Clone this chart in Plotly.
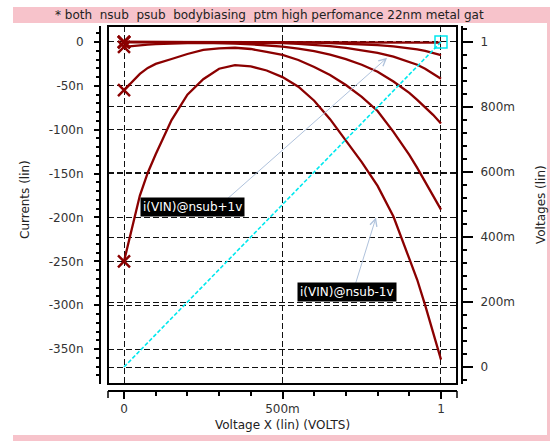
import plotly.graph_objects as go

# ---------------- data ----------------
sweep_v = [0, 0.025, 0.05, 0.075, 0.1, 0.15, 0.2, 0.25, 0.3, 0.35, 0.4, 0.45, 0.5,
           0.55, 0.6, 0.65, 0.7, 0.75, 0.8, 0.85, 0.9, 0.925, 0.95, 0.975, 1.0]

# currents in nA
i_curve1 = [0, 0, 0, 0, 0, 0, 0, 0, 0, 0, 0, 0, 0, 0, 0, -0.1, -0.1, -0.2, -0.2, -0.3,
            -0.4, -0.5, -0.6, -0.7, -0.8]
i_curve2 = [0, 0, 0, 0, 0, 0, 0, 0, 0, 0, -0.1, -0.2, -0.3, -0.5, -0.8, -1.2, -1.8, -2.6,
            -3.6, -5.0, -7.0, -8.5, -10.2, -12.4, -15.0]
i_curve3 = [-0.4, -0.3, -0.3, -0.2, -0.2, -0.2, -0.2, -0.2, -0.3, -0.4, -0.6, -0.9, -1.4,
            -2.2, -3.3, -4.8, -6.8, -9.3, -12.5, -16.8, -22.5, -26.0, -30.5, -36.0, -42.0]
i_curve4 = [-5.7, -4.6, -3.7, -3.0, -2.4, -1.6, -1.2, -1.1, -1.3, -1.8, -2.6, -3.8, -5.3,
            -7.5, -10.5, -14.5, -19.5, -26.0, -34.0, -45.0, -58.0, -66.0, -74.0, -83.0, -93.0]
i_curve5 = [-55, -45.5, -36.4, -29.6, -25, -19.4, -13.7, -9.1, -7.2, -6.6, -8, -11.4, -14.8,
            -20.5, -28.5, -37.6, -49, -62.6, -78.6, -102.5, -128.7, -143.5, -159.5, -175, -191]
i_curve6 = [-250, -212, -175, -149, -128, -89, -60, -42.5, -30.5, -26.4, -27.9, -32.5, -40,
            -51, -67, -88, -112, -137, -164, -199, -247, -271, -300, -330, -362]
current_curves = [i_curve1, i_curve2, i_curve3, i_curve4, i_curve5, i_curve6]

# voltage trace (right axis)
volt_x = [0, 1]
volt_y = [0, 1]

x_tick_vals = [0, 0.5, 1]
x_tick_text = ["0", "500m", "1"]
yl_tick_vals = [0, -50, -100, -150, -200, -250, -300, -350]
yl_tick_text = ["0", "-50n", "-100n", "-150n", "-200n", "-250n", "-300n", "-350n"]
yr_tick_vals = [0, 0.2, 0.4, 0.6, 0.8, 1.0]
yr_tick_text = ["0", "200m", "400m", "600m", "800m", "1"]

title_text = "* both\u00a0 nsub\u00a0 psub\u00a0 bodybiasing\u00a0 ptm high perfomance 22nm metal gat"
label_plus = "i(VIN)@nsub+1v"
label_minus = "i(VIN)@nsub-1v"

# ---------------- geometry helpers (pixels -> paper) ----------------
W, H = 550, 441
L, R, T, B = 100, 462, 26, 391


def px(x):
    return (x - L) / (R - L)


def py(y):
    return (B - y) / (B - T)


RED = "#8B0000"
CYAN = "#00E8EE"
FONT = "DejaVu Sans"
TXT = "#333333"
GRID = dict(showgrid=True, gridcolor="#111111", griddash="6px,3px", gridwidth=1)

fig = go.Figure()

for c in current_curves:
    fig.add_trace(go.Scatter(x=sweep_v, y=c, mode="lines",
                             line=dict(color=RED, width=2.3), yaxis="y", hoverinfo="skip"))

fig.add_trace(go.Scatter(x=[sweep_v[0]] * len(current_curves),
                         y=[c[0] for c in current_curves], mode="markers",
                         marker=dict(symbol="x-thin", size=12,
                                     line=dict(color=RED, width=2.5)), yaxis="y"))

fig.add_trace(go.Scatter(x=volt_x, y=volt_y, mode="lines",
                         line=dict(color=CYAN, width=1.6, dash="4px,2px"), yaxis="y2"))
fig.add_trace(go.Scatter(x=[volt_x[-1]], y=[volt_y[-1]], mode="markers",
                         marker=dict(symbol="square-open", size=12,
                                     line=dict(color=CYAN, width=1.5), color=CYAN),
                         yaxis="y2"))

tickfont = dict(family=FONT, size=12, color=TXT)

fig.update_layout(
    width=W, height=H,
    margin=dict(l=L, r=W - R, t=T, b=H - B, autoexpand=False),
    paper_bgcolor="white", plot_bgcolor="white",
    showlegend=False,
    xaxis=dict(domain=[px(108), px(457)], range=[-0.0505, 1.0505],
               anchor="free", position=0,
               showline=True, linecolor="black", linewidth=2,
               ticks="outside", ticklen=7, tickwidth=1.5, tickcolor="black",
               tickmode="array", tickvals=x_tick_vals, ticktext=x_tick_text,
               zeroline=False, tickfont=tickfont, ticklabelstandoff=0,
               minor=dict(tickmode="linear", tick0=0, dtick=0.1, ticks="outside",
                          ticklen=4, tickcolor="black", tickwidth=1.5, showgrid=False),
               **GRID),
    yaxis=dict(domain=[py(384), py(26)], range=[-389.8, 18.2],
               anchor="free", position=0,
               showline=True, linecolor="black", linewidth=2,
               ticks="outside", ticklen=5, tickwidth=1.5, tickcolor="black",
               tickmode="array", tickvals=yl_tick_vals, ticktext=yl_tick_text,
               zeroline=False, tickfont=tickfont, ticklabelstandoff=8,
               minor=dict(tickmode="linear", tick0=0, dtick=10, ticks="outside",
                          ticklen=3, tickcolor="black", tickwidth=1.5, showgrid=False),
               **GRID),
    yaxis2=dict(overlaying="y", side="right", range=[-0.0523, 1.0492],
                anchor="free", position=1,
                showline=True, linecolor="black", linewidth=2,
                ticks="outside", ticklen=10, tickwidth=1.5, tickcolor="black",
                tickmode="array", tickvals=yr_tick_vals, ticktext=yr_tick_text,
                zeroline=False, tickfont=tickfont, ticklabelstandoff=5,
                minor=dict(tickmode="linear", tick0=0, dtick=0.04, ticks="outside",
                           ticklen=4, tickcolor="black", tickwidth=1.5, showgrid=False),
                **GRID),
)

shapes = [
    # plot border
    dict(type="rect", xref="x domain", yref="y domain", x0=0, x1=1, y0=0, y1=1,
         line=dict(color="black", width=2), layer="above"),
    # pink title band and frame
    dict(type="rect", xref="paper", yref="paper", x0=px(13), x1=px(551), y0=py(23), y1=py(7),
         fillcolor="#F7C3CB", line=dict(width=0), layer="below"),
    dict(type="rect", xref="paper", yref="paper", x0=px(547), x1=px(551), y0=py(442), y1=py(7),
         fillcolor="#F7C3CB", line=dict(width=0), layer="below"),
    dict(type="rect", xref="paper", yref="paper", x0=px(13), x1=px(551), y0=py(442), y1=py(435),
         fillcolor="#F7C3CB", line=dict(width=0), layer="below"),
    # axis end caps
    dict(type="line", xref="paper", yref="paper", x0=px(108), x1=px(108), y0=py(391), y1=py(398),
         line=dict(color="black", width=1.5)),
    dict(type="line", xref="paper", yref="paper", x0=px(457), x1=px(457), y0=py(391), y1=py(398),
         line=dict(color="black", width=1.5)),
]
fig.update_layout(shapes=shapes)

ann = [
    dict(text=title_text, xref="paper", yref="paper", x=px(53), y=py(15),
         xanchor="left", yanchor="middle", showarrow=False,
         font=dict(family=FONT, size=12, color="#222222")),
    dict(text="Currents (lin)", xref="paper", yref="paper", x=px(25), y=py(200),
         xanchor="center", yanchor="middle",
         textangle=-90, showarrow=False, font=dict(family=FONT, size=12, color="#222222")),
    dict(text="Voltages (lin)", xref="paper", yref="paper", x=px(541), y=py(205),
         xanchor="center", yanchor="middle",
         textangle=-90, showarrow=False, font=dict(family=FONT, size=12, color="#222222")),
    dict(text="Voltage X (lin) (VOLTS)", xref="paper", yref="paper", x=px(282), y=py(425),
         xanchor="center", yanchor="middle",
         showarrow=False, font=dict(family=FONT, size=12, color="#222222")),
    # arrows
    dict(text="", xref="x", yref="y", x=0.83, y=-18, axref="x", ayref="y", ax=0.319, ay=-181,
         showarrow=True, arrowhead=5, arrowsize=1.4, arrowwidth=1, arrowcolor="#AFC2DC"),
    dict(text="", xref="x", yref="y", x=0.795, y=-200, axref="x", ayref="y", ax=0.729, ay=-277,
         showarrow=True, arrowhead=5, arrowsize=1.4, arrowwidth=1, arrowcolor="#AFC2DC"),
    # label boxes
    dict(text=label_plus, xref="x", yref="y", x=0.216, y=-188, showarrow=False,
         bgcolor="black", borderpad=2, font=dict(family=FONT, size=12, color="white")),
    dict(text=label_minus, xref="x", yref="y", x=0.705, y=-285, showarrow=False,
         bgcolor="black", borderpad=2, font=dict(family=FONT, size=12, color="white")),
]
fig.update_layout(annotations=ann)

fig.write_html("out.html", config={"displayModeBar": False},
               post_script="document.body.style.margin='0px';document.body.style.padding='0px';")
